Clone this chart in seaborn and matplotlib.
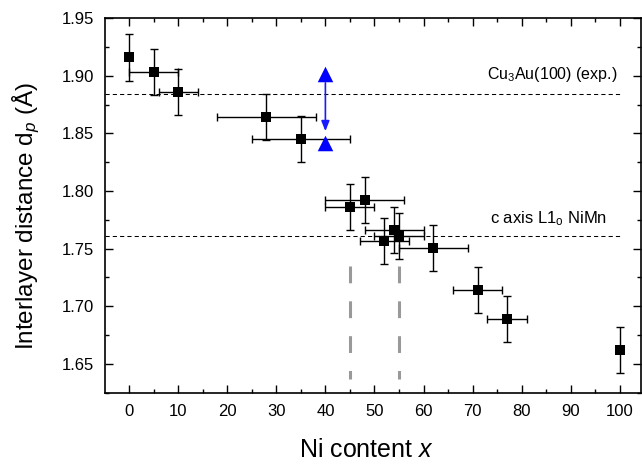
import numpy as np
import pandas as pd
import matplotlib
matplotlib.use("Agg")
import matplotlib.pyplot as plt
import seaborn as sns
from matplotlib.ticker import MultipleLocator, FormatStrFormatter

# ---- data ----
ni_content = [0, 5, 10, 28, 35, 45, 48, 52, 54, 55, 62, 71, 77, 100]
d_spacing = [1.916, 1.903, 1.886, 1.864, 1.845, 1.786, 1.792, 1.757, 1.766,
             1.761, 1.751, 1.714, 1.689, 1.662]
x_error = [0, 5, 4, 10, 10, 5, 8, 5, 6, 5, 7, 5, 4, 0]
y_error = [0.02, 0.02, 0.02, 0.02, 0.02, 0.02, 0.02, 0.02, 0.02, 0.02, 0.02,
           0.02, 0.02, 0.02]

tri_x = [40, 40]
tri_y = [1.902, 1.842]

ref_cu3au = 1.884
ref_nimn = 1.761
vlines_x = [45, 55]
vline_span = [1.735, 1.637]

xticks = [0, 10, 20, 30, 40, 50, 60, 70, 80, 90, 100]
yticks = [1.65, 1.70, 1.75, 1.80, 1.85, 1.90, 1.95]

df = pd.DataFrame({"x": ni_content, "d": d_spacing, "xe": x_error, "ye": y_error})

sns.set_theme(style="ticks")
plt.rcParams["font.family"] = ["Liberation Sans", "DejaVu Sans"]
plt.rcParams["mathtext.fontset"] = "custom"
plt.rcParams["mathtext.rm"] = "Liberation Sans"
plt.rcParams["mathtext.it"] = "Liberation Sans:italic"
plt.rcParams["mathtext.bf"] = "Liberation Sans:bold"
plt.rcParams["text.color"] = "black"
plt.rcParams["axes.labelcolor"] = "black"
plt.rcParams["xtick.color"] = "black"
plt.rcParams["ytick.color"] = "black"

W, H = 642, 466
fig = plt.figure(figsize=(W / 100, H / 100), dpi=100)
ax = fig.add_axes([105 / W, 1 - 392.7 / H, (641 - 105) / W, (392.7 - 18.3) / H])

# reference lines
ax.plot([-4.9, 100], [ref_cu3au, ref_cu3au], color="black", lw=0.75,
        linestyle=(0, (4, 3)), zorder=1)
ax.plot([-4.9, 100], [ref_nimn, ref_nimn], color="black", lw=0.75,
        linestyle=(0, (4, 3)), zorder=1)
for vx in vlines_x:
    ax.plot([vx, vx], vline_span, color="#999999", lw=2.2,
            linestyle=(0, (5.5, 5.9)), zorder=1)

# error bars
mask = df["xe"] > 0
ax.errorbar(df["x"], df["d"], yerr=df["ye"], fmt="none", ecolor="black",
            elinewidth=1, capsize=2.8, capthick=1, zorder=2)
ax.errorbar(df.loc[mask, "x"], df.loc[mask, "d"], xerr=df.loc[mask, "xe"],
            fmt="none", ecolor="black", elinewidth=1, capsize=2.8, capthick=1,
            zorder=2)

sns.scatterplot(data=df, x="x", y="d", marker="s", s=60, color="black",
                edgecolor="black", linewidth=0, ax=ax, zorder=3)

# blue triangles + arrow
sns.scatterplot(x=tri_x, y=tri_y, marker="^", s=125, color="#0000ff",
                edgecolor="#0000ff", linewidth=0, ax=ax, zorder=3)
ax.annotate("", xy=(40, 1.852), xytext=(40, 1.894),
            arrowprops=dict(arrowstyle="-|>,head_length=0.5,head_width=0.2",
                            color="#1a1aff", lw=1.2, shrinkA=0, shrinkB=0),
            zorder=3)

# labels on lines
ax.text(99.6, 1.897, r"Cu$_3$Au(100) (exp.)", ha="right", va="baseline",
        fontsize=11.5)
ax.text(97.4, 1.7717, r"c axis L1$_\mathrm{o}$ NiMn", ha="right", va="baseline",
        fontsize=12)

ax.set_xlim(-4.9, 104.3)
ax.set_ylim(1.625, 1.95)
ax.set_xticks(xticks)
ax.set_yticks(yticks)
ax.xaxis.set_minor_locator(MultipleLocator(5))
ax.yaxis.set_minor_locator(MultipleLocator(0.025))
ax.yaxis.set_major_formatter(FormatStrFormatter("%.2f"))
ax.tick_params(which="both", direction="in", top=True, right=True,
               colors="black", width=1)
ax.tick_params(which="major", length=5.5, labelsize=12, pad=8)
ax.tick_params(which="minor", length=3)
for sp in ax.spines.values():
    sp.set_visible(True)
    sp.set_color("black")
    sp.set_linewidth(1.2)

ax.set_xlabel(r"Ni content $x$", fontsize=18, va="center")
ax.set_ylabel(r"Interlayer distance d$_p$ (Å)", fontsize=17.5, va="center")
ax.xaxis.set_label_coords((366.5 - 105) / 536, (392.7 - 450) / 374.4)
ax.yaxis.set_label_coords((26 - 105) / 536, (392.7 - 216) / 374.4)

fig.savefig("out.png", dpi=100)
